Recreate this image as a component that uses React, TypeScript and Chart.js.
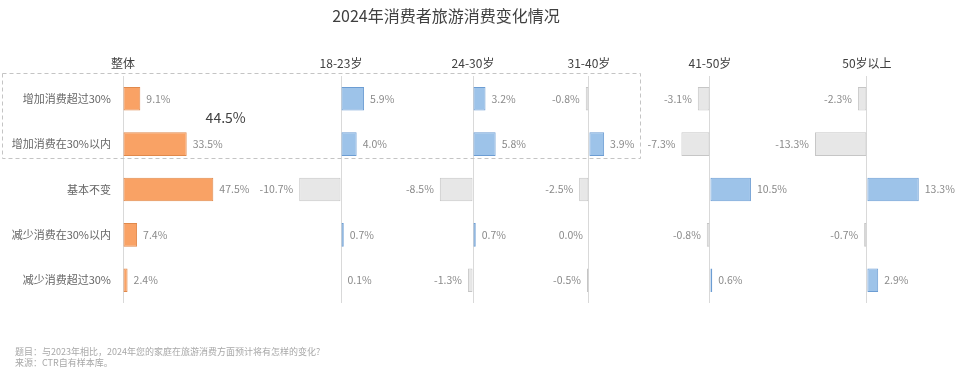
import React, { useEffect, useRef } from "react";
import { Chart, registerables } from "chart.js";

Chart.register(...registerables);

const categories = ["增加消费超过30%", "增加消费在30%以内", "基本不变", "减少消费在30%以内", "减少消费超过30%"];
const panelNames = ["整体", "18-23岁", "24-30岁", "31-40岁", "41-50岁", "50岁以上"];
const overall = [9.1, 33.5, 47.5, 7.4, 2.4];
const age18to23 = [5.9, 4.0, -10.7, 0.7, 0.1];
const age24to30 = [3.2, 5.8, -8.5, 0.7, -1.3];
const age31to40 = [-0.8, 3.9, -2.5, 0.0, -0.5];
const age41to50 = [-3.1, -7.3, 10.5, -0.8, 0.6];
const age50plus = [-2.3, -13.3, 13.3, -0.7, 2.9];
const increaseTotalLabel = "44.5%";
const increaseTotalPos = 54;
const titleText = "2024年消费者旅游消费变化情况";
const noteLines = ["题目：与2023年相比，2024年您的家庭在旅游消费方面预计将有怎样的变化?", "来源：CTR自有样本库。"];

const FONT = "'Noto Sans CJK SC', 'Noto Sans', sans-serif";
const ORANGE = "#F9A265";
const ORANGE_B = "#E0894C";
const BLUE = "#9DC3E9";
const BLUE_B = "#6C9DD3";
const GREY = "#E7E7E7";
const GREY_B = "#C6C6C6";

// axis ranges (min, max) and horizontal weights of each panel
const axisMin = [0, -23.3, -18.7, -15.1, -17.9, -19.7];
const axisMax = [66.8, 15.1, 14.6, 13.1, 20.5, 21.3];
const axisWeight = [127, 150, 130, 110, 150, 160];

const series = [overall, age18to23, age24to30, age31to40, age41to50, age50plus];

const labelPlugin = {
  id: "valueLabels",
  afterDatasetsDraw(chart: any) {
    const ctx = chart.ctx;
    ctx.save();
    ctx.font = `10.5px ${FONT}`;
    ctx.fillStyle = "#8a8a8a";
    ctx.textBaseline = "middle";
    chart.data.datasets.forEach((ds: any, di: number) => {
      const meta = chart.getDatasetMeta(di);
      meta.data.forEach((el: any, i: number) => {
        const v = ds.data[i];
        const txt = v.toFixed(1) + "%";
        if (v > 0) {
          ctx.textAlign = "left";
          ctx.fillText(txt, el.x + 6, el.y);
        } else {
          ctx.textAlign = "right";
          ctx.fillText(txt, el.x - 6, el.y);
        }
      });
    });
    const x0 = chart.scales.x0;
    const y = chart.scales.y;
    const yMid = (y.getPixelForValue(0) + y.getPixelForValue(1)) / 2 - 4;
    ctx.font = `14px ${FONT}`;
    ctx.fillStyle = "#404040";
    ctx.textAlign = "center";
    ctx.fillText(increaseTotalLabel, x0.getPixelForValue(increaseTotalPos), yMid);
    ctx.restore();
  },
  beforeDatasetsDraw(chart: any) {
    const ctx = chart.ctx;
    const y = chart.scales.y;
    const x3 = chart.scales.x3;
    const top = y.getPixelForValue(0) - 25.5;
    const bottom = y.getPixelForValue(1) + 14;
    ctx.save();
    ctx.strokeStyle = "#c4c4c4";
    ctx.lineWidth = 1;
    ctx.setLineDash([4, 3]);
    ctx.strokeRect(2.5, Math.round(top) + 0.5, Math.round(x3.right) - 2, Math.round(bottom - top));
    ctx.restore();
  },
};

export default function App() {
  const ref = useRef<HTMLCanvasElement>(null);

  useEffect(() => {
    if (!ref.current) return;
    const scales: any = {
      y: {
        type: "category",
        position: "left",
        grid: { display: false },
        border: { display: false },
        ticks: { color: "#666666", font: { size: 11, family: FONT }, padding: 4 },
        afterFit: (s: any) => {
          s.width = 123;
        },
      },
    };
    // top boxes are laid out in reverse order, so add the panels last-to-first
    for (let i = series.length - 1; i >= 0; i--) {
      scales["x" + i] = {
        type: "linear",
        position: "top",
        stack: "panels",
        stackWeight: axisWeight[i],
        min: axisMin[i],
        max: axisMax[i],
        afterBuildTicks: (s: any) => {
          s.ticks = [{ value: 0 }];
        },
        grid: { color: "#d9d9d9", lineWidth: 1, drawTicks: false },
        border: { display: false },
        ticks: {
          color: "#404040",
          font: { size: 12, family: FONT },
          padding: 5,
          maxRotation: 0,
          autoSkip: false,
          callback: () => panelNames[i],
        },
        afterFit: (s: any) => {
          s.height = 30;
        },
      };
    }

    const chart = new Chart(ref.current, {
      type: "bar",
      data: {
        labels: categories,
        datasets: series.map((d, i) => ({
          label: panelNames[i],
          data: d,
          xAxisID: "x" + i,
          yAxisID: "y",
          grouped: false,
          barPercentage: 0.52,
          categoryPercentage: 1,
          borderWidth: 1,
          borderSkipped: false,
          backgroundColor: (c: any) => (i === 0 ? ORANGE : c.raw > 0 ? BLUE : GREY),
          borderColor: (c: any) => (i === 0 ? ORANGE_B : c.raw > 0 ? BLUE_B : GREY_B),
        })),
      },
      options: {
        indexAxis: "y",
        responsive: false,
        animation: false,
        layout: { padding: { left: 0, top: 46, right: 10, bottom: 71 } },
        plugins: {
          legend: { display: false },
          tooltip: { enabled: false },
          title: { display: false },
        },
        scales,
      },
      plugins: [labelPlugin],
    } as any);
    return () => chart.destroy();
  }, []);

  return (
    <div style={{ position: "fixed", left: 0, top: 0, width: 960, height: 374, background: "#fff", fontFamily: FONT }}>
      <canvas ref={ref} width={960} height={374} style={{ position: "absolute", left: 0, top: 0 }} />
      <div
        style={{
          position: "absolute",
          left: 0,
          top: 5,
          width: 892,
          textAlign: "center",
          fontSize: 16,
          lineHeight: "20px",
          color: "#404040",
        }}
      >
        {titleText}
      </div>
      <div
        style={{
          position: "absolute",
          left: 15,
          top: 347,
          fontSize: 9,
          lineHeight: "10.5px",
          color: "#a8a8a8",
        }}
      >
        {noteLines.map((t, i) => (
          <div key={i}>{t}</div>
        ))}
      </div>
    </div>
  );
}
